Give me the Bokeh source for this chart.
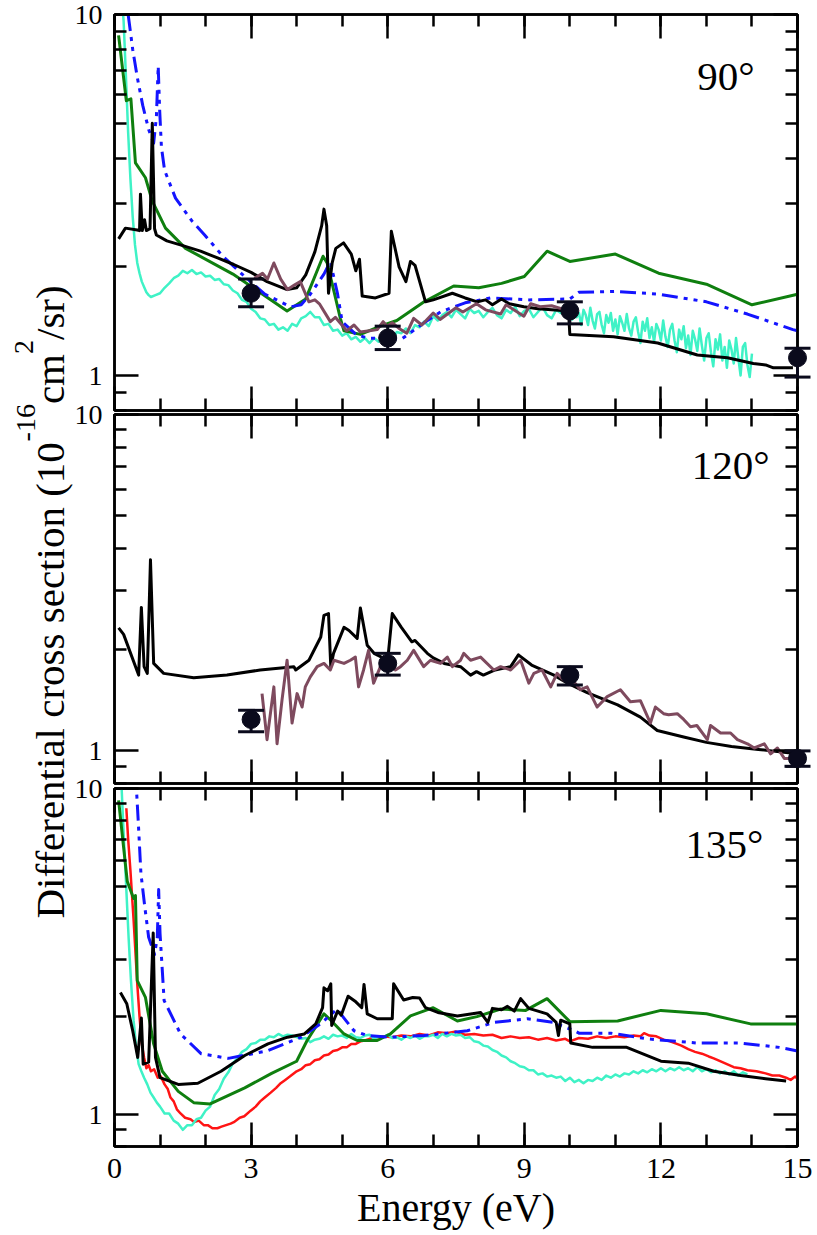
import math

from bokeh.embed import file_html
from bokeh.layouts import column
from bokeh.models import (ColumnDataSource, CustomJSTickFormatter, FixedTicker, Label,
                          LinearAxis, LogAxis, LogScale, PrintfTickFormatter, Range1d,
                          TeeHead, Whisker)
from bokeh.plotting import figure
from bokeh.resources import INLINE

# ---------------------------------------------------------------- data
X_MAJOR = [0, 3, 6, 9, 12, 15]
X_MINOR = list(range(0, 16))
Y_MAJOR = [1, 10]
Y_MINOR = [0.8, 0.9, 2, 3, 4, 5, 6, 7, 8, 9]

ANGLES = ["90°", "120°", "135°"]

# 90 degrees
P1_BLACK = [(0.09, 2.39), (0.24, 2.56), (0.50, 2.53), (0.55, 2.52), (0.57, 3.18), (0.61, 2.52),
            (0.66, 2.70), (0.70, 2.52), (0.78, 2.55), (0.83, 5.00), (0.88, 2.55), (0.92, 2.45),
            (1.15, 2.36), (1.50, 2.29), (1.89, 2.21), (2.25, 2.12), (2.62, 2.03), (3.00, 1.93),
            (3.35, 1.82), (3.79, 1.73), (4.00, 1.75), (4.20, 1.90), (4.40, 2.20), (4.55, 2.60),
            (4.60, 2.89), (4.66, 2.60), (4.70, 1.69), (4.78, 2.05), (4.86, 2.25), (5.03, 2.33),
            (5.20, 2.17), (5.30, 1.95), (5.38, 2.10), (5.44, 1.66), (5.73, 1.64), (6.03, 1.69),
            (6.08, 2.51), (6.25, 2.00), (6.40, 1.82), (6.50, 2.07), (6.60, 2.02), (6.83, 1.60),
            (7.00, 1.62), (7.42, 1.69), (7.70, 1.64), (7.97, 1.60), (8.15, 1.62), (8.30, 1.57),
            (8.50, 1.63), (8.67, 1.58), (8.99, 1.55), (9.30, 1.53), (9.97, 1.51), (10.00, 1.30),
            (10.96, 1.28), (11.93, 1.23), (12.80, 1.14), (13.46, 1.12), (14.03, 1.08),
            (14.30, 1.07), (14.47, 1.05), (14.90, 1.05)]
P1_GREEN = [(0.09, 8.75), (0.26, 5.77), (0.36, 5.84), (0.46, 3.88), (0.68, 3.53), (0.83, 3.04),
            (1.12, 2.56), (1.56, 2.25), (2.60, 1.91), (3.79, 1.51), (4.20, 1.63), (4.58, 2.14),
            (4.67, 2.05), (4.82, 1.71), (4.96, 1.44), (5.04, 1.33), (5.40, 1.30), (5.84, 1.37),
            (6.20, 1.42), (6.80, 1.60), (7.45, 1.77), (8.00, 1.75), (8.50, 1.80), (9.00, 1.88),
            (9.50, 2.21), (10.00, 2.07), (11.00, 2.17), (11.95, 1.92), (13.00, 1.79),
            (14.00, 1.57), (15.00, 1.68)]
P1_BLUE = [(0.22, 13.0), (0.30, 10.0), (0.40, 8.0), (0.50, 6.7), (0.62, 5.6), (0.75, 4.8),
           (0.86, 4.4), (0.92, 5.2), (0.96, 7.2), (0.99, 5.5), (1.03, 4.3), (1.10, 3.7),
           (1.34, 3.10), (1.70, 2.68), (1.98, 2.45), (2.38, 2.14), (2.80, 1.91), (3.30, 1.68),
           (3.87, 1.55), (4.10, 1.57), (4.30, 1.68), (4.60, 1.91), (4.74, 2.07), (4.90, 1.68),
           (5.00, 1.41), (5.30, 1.30), (5.55, 1.27), (6.30, 1.26), (6.80, 1.40), (7.16, 1.50),
           (7.70, 1.59), (8.26, 1.64), (9.10, 1.62), (10.00, 1.63), (10.20, 1.70), (11.00, 1.71),
           (11.95, 1.68), (13.00, 1.60), (13.90, 1.48), (14.90, 1.34), (15.00, 1.33)]
P1_CYAN = [(0.10, 14.0), (0.15, 11.5), (0.20, 9.6), (0.25, 6.8), (0.30, 4.7), (0.35, 3.5),
           (0.40, 2.75), (0.45, 2.30), (0.50, 2.05), (0.55, 1.92), (0.60, 1.82), (0.65, 1.76),
           (0.70, 1.70), (0.75, 1.67), (0.80, 1.65), (0.90, 1.67), (1.0, 1.69), (1.1, 1.75),
           (1.2, 1.80), (1.3, 1.86), (1.4, 1.89), (1.5, 1.95), (1.6, 1.92), (1.7, 1.96),
           (1.8, 1.91), (1.9, 1.93), (2.0, 1.88), (2.1, 1.89), (2.2, 1.84), (2.3, 1.85),
           (2.4, 1.79), (2.5, 1.78), (2.6, 1.72), (2.7, 1.69), (2.8, 1.62), (2.9, 1.60),
           (3.0, 1.53), (3.1, 1.50), (3.2, 1.44), (3.3, 1.43), (3.4, 1.38), (3.5, 1.39),
           (3.6, 1.34), (3.7, 1.36), (3.8, 1.33), (3.9, 1.39), (4.0, 1.37), (4.1, 1.44),
           (4.2, 1.46), (4.3, 1.50), (4.4, 1.45), (4.5, 1.45), (4.6, 1.38), (4.7, 1.39),
           (4.8, 1.33), (4.9, 1.34), (5.0, 1.29), (5.1, 1.31), (5.2, 1.26), (5.3, 1.28),
           (5.4, 1.24), (5.5, 1.27), (5.6, 1.23), (5.7, 1.27), (5.8, 1.24), (5.9, 1.28),
           (6.0, 1.29), (6.1, 1.26), (6.2, 1.32), (6.3, 1.31), (6.4, 1.35), (6.5, 1.31),
           (6.6, 1.38), (6.7, 1.36), (6.8, 1.41), (6.9, 1.37), (7.0, 1.46), (7.1, 1.42),
           (7.2, 1.47), (7.3, 1.50), (7.4, 1.45), (7.5, 1.52), (7.6, 1.48), (7.7, 1.44),
           (7.8, 1.53), (7.9, 1.49), (8.0, 1.51), (8.1, 1.45), (8.2, 1.50), (8.3, 1.54),
           (8.4, 1.47), (8.5, 1.44), (8.6, 1.52), (8.7, 1.49), (8.8, 1.55), (8.9, 1.46),
           (9.0, 1.51), (9.1, 1.53), (9.2, 1.45), (9.3, 1.50), (9.4, 1.55), (9.5, 1.47),
           (9.6, 1.44), (9.7, 1.52), (9.8, 1.49), (9.9, 1.54),
           (10.00, 1.53), (10.05, 1.43), (10.10, 1.55), (10.15, 1.45), (10.20, 1.49),
           (10.25, 1.38), (10.30, 1.52), (10.35, 1.47), (10.40, 1.38), (10.45, 1.54),
           (10.50, 1.42), (10.55, 1.35), (10.60, 1.48), (10.65, 1.50), (10.70, 1.38),
           (10.75, 1.31), (10.80, 1.47), (10.85, 1.40), (10.90, 1.49), (10.95, 1.33),
           (11.00, 1.43), (11.05, 1.30), (11.10, 1.46), (11.15, 1.40), (11.20, 1.33),
           (11.25, 1.48), (11.30, 1.35), (11.35, 1.29), (11.40, 1.41), (11.45, 1.45),
           (11.50, 1.32), (11.55, 1.23), (11.60, 1.41), (11.65, 1.33), (11.70, 1.44),
           (11.75, 1.27), (11.80, 1.36), (11.85, 1.24), (11.90, 1.39), (11.95, 1.34),
           (12.00, 1.25), (12.05, 1.42), (12.10, 1.28), (12.15, 1.20), (12.20, 1.34),
           (12.25, 1.39), (12.30, 1.25), (12.35, 1.16), (12.40, 1.34), (12.45, 1.26),
           (12.50, 1.37), (12.55, 1.19), (12.60, 1.29), (12.65, 1.14), (12.70, 1.33),
           (12.75, 1.26), (12.80, 1.17), (12.85, 1.35), (12.90, 1.21), (12.95, 1.10),
           (13.00, 1.27), (13.05, 1.31), (13.10, 1.16), (13.15, 1.06), (13.20, 1.26),
           (13.25, 1.18), (13.30, 1.30), (13.35, 1.10), (13.40, 1.20), (13.45, 1.05),
           (13.50, 1.25), (13.55, 1.18), (13.60, 1.08), (13.65, 1.27), (13.70, 1.12),
           (13.75, 1.00), (13.80, 1.20), (13.85, 1.23), (13.90, 1.07), (13.95, 0.99),
           (14.00, 1.15)]
P1_MAUVE = [(3.07, 1.86), (3.25, 1.92), (3.36, 1.85), (3.50, 2.05), (3.65, 1.85), (3.80, 1.73),
            (3.95, 1.78), (4.08, 1.82), (4.27, 1.60), (4.40, 1.62), (4.50, 1.58), (4.74, 1.41),
            (4.85, 1.45), (5.10, 1.33), (5.26, 1.38), (5.40, 1.32), (5.60, 1.33), (5.77, 1.34),
            (5.90, 1.41), (5.99, 1.37), (6.10, 1.40), (6.25, 1.35), (6.42, 1.31), (6.57, 1.44),
            (6.75, 1.38), (7.00, 1.49), (7.15, 1.43), (7.50, 1.54), (7.65, 1.50), (7.95, 1.58),
            (8.15, 1.52), (8.48, 1.48), (8.60, 1.57), (8.99, 1.46), (9.14, 1.58), (9.35, 1.55),
            (9.60, 1.56), (9.90, 1.52), (10.00, 1.57)]
P1_EXP_E = [3, 6, 10, 15]
P1_EXP_V = [1.69, 1.27, 1.51, 1.12]
P1_EXP_LO = [1.55, 1.18, 1.39, 0.99]
P1_EXP_HI = [1.85, 1.37, 1.60, 1.19]

# 120 degrees
P2_BLACK = [(0.09, 2.32), (0.20, 2.22), (0.53, 1.68), (0.59, 2.67), (0.65, 1.78), (0.72, 1.70),
            (0.79, 3.70), (0.86, 1.82), (1.08, 1.70), (1.74, 1.65), (2.47, 1.68), (3.20, 1.74),
            (3.94, 1.78), (3.98, 1.74), (4.27, 1.86), (4.53, 2.18), (4.60, 2.53), (4.70, 2.56),
            (4.75, 1.78), (4.81, 1.95), (5.04, 2.33), (5.15, 2.28), (5.33, 2.16), (5.40, 2.66),
            (5.55, 2.06), (5.70, 1.95), (6.00, 1.86), (6.10, 2.56), (6.30, 2.33), (6.53, 2.11),
            (6.60, 2.13), (6.87, 1.95), (7.00, 1.89), (7.24, 1.82), (7.60, 1.78), (7.82, 1.68),
            (7.95, 1.72), (8.10, 1.68), (8.36, 1.74), (8.70, 1.78), (8.87, 1.93), (9.16, 1.80),
            (9.65, 1.68), (9.95, 1.59), (10.38, 1.49), (11.05, 1.37), (11.55, 1.26),
            (11.92, 1.15), (12.50, 1.10), (13.00, 1.06), (13.55, 1.03), (14.14, 1.01),
            (14.70, 0.99), (15.00, 0.98)]
P2_MAUVE = [(3.24, 1.48), (3.35, 1.08), (3.50, 1.55), (3.57, 1.05), (3.68, 1.42), (3.79, 1.86),
            (3.90, 1.21), (4.01, 1.48), (4.12, 1.35), (4.19, 1.55), (4.30, 1.66), (4.45, 1.78),
            (4.60, 1.82), (4.74, 1.74), (4.82, 1.86), (5.04, 1.82), (5.18, 1.86), (5.29, 1.90),
            (5.36, 1.55), (5.47, 1.74), (5.58, 1.99), (5.69, 1.59), (5.84, 1.78), (5.99, 1.95),
            (6.17, 1.74), (6.28, 1.78), (6.43, 1.86), (6.57, 1.99), (6.79, 1.78), (6.94, 1.86),
            (7.16, 1.82), (7.31, 1.90), (7.42, 1.78), (7.60, 1.86), (7.67, 1.95), (7.82, 1.86),
            (8.04, 1.90), (8.33, 1.74), (8.48, 1.78), (8.70, 1.74), (8.92, 1.86), (9.10, 1.59),
            (9.21, 1.70), (9.39, 1.74), (9.58, 1.55), (9.72, 1.70), (9.87, 1.62), (10.00, 1.66),
            (10.23, 1.52), (10.38, 1.55), (10.60, 1.35), (10.82, 1.45), (11.11, 1.52),
            (11.33, 1.40), (11.55, 1.41), (11.77, 1.21), (11.88, 1.35), (12.06, 1.29),
            (12.17, 1.28), (12.36, 1.29), (12.50, 1.24), (12.65, 1.18), (12.79, 1.19),
            (13.02, 1.08), (13.09, 1.19), (13.31, 1.13), (13.53, 1.13), (13.68, 1.08),
            (13.90, 1.05), (14.05, 1.02), (14.27, 1.05), (14.41, 0.98), (14.56, 1.02),
            (14.71, 0.95), (14.93, 0.95)]
P2_EXP_E = [3, 6, 10, 15]
P2_EXP_V = [1.24, 1.82, 1.68, 0.95]
P2_EXP_LO = [1.14, 1.68, 1.57, 0.90]
P2_EXP_HI = [1.32, 1.95, 1.78, 1.00]

# 135 degrees
P3_BLACK = [(0.13, 2.37), (0.27, 2.19), (0.40, 1.81), (0.51, 1.50), (0.59, 1.98), (0.63, 1.43),
            (0.75, 1.45), (0.85, 3.61), (0.90, 1.50), (1.00, 1.30), (1.40, 1.24), (1.83, 1.25),
            (2.34, 1.36), (2.86, 1.52), (3.37, 1.65), (3.80, 1.73), (4.17, 1.77), (4.42, 1.90),
            (4.57, 2.13), (4.60, 2.45), (4.68, 2.40), (4.75, 2.52), (4.77, 1.88), (4.90, 2.08),
            (4.98, 2.02), (5.13, 2.31), (5.30, 2.22), (5.43, 2.13), (5.48, 2.51), (5.55, 2.04),
            (5.77, 1.97), (6.10, 1.97), (6.13, 2.52), (6.35, 2.25), (6.55, 2.29), (6.70, 2.28),
            (6.83, 2.13), (7.10, 2.06), (7.53, 2.01), (8.04, 2.06), (8.20, 1.92), (8.30, 2.12),
            (8.50, 2.10), (8.63, 2.15), (8.78, 2.08), (8.92, 2.27), (9.10, 2.12), (9.50, 2.04),
            (9.70, 1.92), (9.75, 1.75), (9.80, 1.95), (10.00, 1.90), (10.02, 1.66),
            (10.50, 1.61), (11.25, 1.61), (12.00, 1.46), (12.60, 1.44), (13.16, 1.36),
            (13.75, 1.32), (14.30, 1.29), (14.75, 1.27)]
P3_GREEN = [(0.09, 9.2), (0.20, 6.6), (0.28, 5.2), (0.42, 4.6), (0.46, 4.7), (0.50, 2.58),
            (0.68, 2.29), (0.86, 1.65), (1.05, 1.36), (1.40, 1.18), (1.74, 1.09), (2.10, 1.08),
            (2.86, 1.21), (3.45, 1.34), (4.00, 1.46), (4.23, 1.69), (4.60, 2.04), (4.75, 1.95),
            (5.04, 1.77), (5.33, 1.69), (5.77, 1.69), (6.06, 1.77), (6.50, 2.01), (7.00, 2.13),
            (7.53, 1.94), (7.96, 2.00), (8.48, 2.11), (9.03, 2.09), (9.50, 2.27), (10.00, 1.93),
            (11.05, 1.94), (12.00, 2.09), (13.00, 2.04), (13.97, 1.90), (15.00, 1.90)]
P3_RED = [(0.26, 8.7), (0.30, 7.0), (0.35, 5.6), (0.42, 3.94), (0.50, 2.52), (0.55, 2.00),
          (0.60, 1.65), (0.65, 1.50), (0.70, 1.39), (0.75, 1.42), (0.80, 1.36), (0.87, 1.38),
          (0.95, 1.30), (1.02, 1.31), (1.10, 1.24), (1.17, 1.20), (1.23, 1.13), (1.30, 1.10),
          (1.37, 1.04), (1.45, 1.01), (1.55, 0.98), (1.67, 0.97), (1.75, 0.95), (1.85, 0.96),
          (1.96, 0.93), (2.05, 0.93), (2.15, 0.91), (2.26, 0.91), (2.35, 0.92), (2.45, 0.93),
          (2.55, 0.94), (2.62, 0.95), (2.75, 0.98), (2.85, 0.99), (2.99, 1.03), (3.10, 1.06),
          (3.20, 1.10), (3.30, 1.13), (3.43, 1.17), (3.55, 1.21), (3.65, 1.25), (3.75, 1.28),
          (3.85, 1.31), (4.00, 1.36), (4.10, 1.38), (4.20, 1.42), (4.30, 1.43), (4.40, 1.47),
          (4.50, 1.48), (4.60, 1.52), (4.70, 1.53), (4.80, 1.57), (4.90, 1.58), (5.00, 1.61),
          (5.10, 1.61), (5.20, 1.65), (5.30, 1.65), (5.40, 1.68), (5.50, 1.69), (5.60, 1.71),
          (5.77, 1.73), (5.90, 1.74), (6.10, 1.73), (6.30, 1.75), (6.50, 1.74), (6.70, 1.77),
          (6.90, 1.75), (7.10, 1.79), (7.30, 1.78), (7.50, 1.80), (7.70, 1.76), (7.90, 1.77),
          (8.10, 1.75), (8.30, 1.76), (8.50, 1.72), (8.70, 1.74), (8.90, 1.72), (9.10, 1.73),
          (9.30, 1.70), (9.50, 1.72), (9.70, 1.69), (9.90, 1.71), (10.00, 1.68), (10.20, 1.72),
          (10.40, 1.71), (10.60, 1.74), (10.80, 1.72), (11.00, 1.74), (11.20, 1.73),
          (11.40, 1.75), (11.55, 1.74), (11.63, 1.78), (11.75, 1.75), (11.90, 1.74),
          (12.06, 1.70), (12.20, 1.68), (12.35, 1.65), (12.45, 1.63), (12.60, 1.59),
          (12.75, 1.56), (12.90, 1.54), (13.05, 1.51), (13.16, 1.49), (13.30, 1.46),
          (13.45, 1.43), (13.60, 1.40), (13.75, 1.39), (13.90, 1.37), (14.10, 1.36),
          (14.30, 1.34), (14.45, 1.32), (14.60, 1.32), (14.75, 1.30), (14.85, 1.28),
          (14.95, 1.31), (15.00, 1.29)]
P3_CYAN = [(0.10, 14.0), (0.15, 10.5), (0.20, 7.3), (0.24, 5.6), (0.31, 3.49), (0.36, 2.6),
           (0.42, 1.94), (0.47, 1.65), (0.53, 1.43), (0.59, 1.36), (0.65, 1.30), (0.72, 1.24),
           (0.79, 1.17), (0.86, 1.13), (0.93, 1.09), (1.0, 1.06), (1.1, 1.01), (1.2, 1.01),
           (1.3, 0.96), (1.4, 0.94), (1.5, 0.90), (1.6, 0.93), (1.7, 0.93), (1.8, 0.97),
           (1.9, 0.98), (2.0, 1.03), (2.1, 1.06), (2.2, 1.15), (2.3, 1.20), (2.4, 1.29),
           (2.5, 1.35), (2.6, 1.44), (2.7, 1.49), (2.8, 1.56), (2.9, 1.59), (3.0, 1.65),
           (3.1, 1.66), (3.2, 1.70), (3.3, 1.70), (3.4, 1.74), (3.5, 1.73), (3.6, 1.77),
           (3.7, 1.74), (3.8, 1.76), (3.9, 1.75), (4.0, 1.73), (4.1, 1.71), (4.2, 1.72),
           (4.3, 1.67), (4.4, 1.70), (4.5, 1.71), (4.6, 1.74), (4.7, 1.71), (4.8, 1.76),
           (4.9, 1.74), (5.0, 1.75), (5.1, 1.72), (5.2, 1.77), (5.3, 1.73), (5.4, 1.72),
           (5.5, 1.75), (5.6, 1.76), (5.7, 1.71), (5.8, 1.74), (5.9, 1.73), (6.0, 1.76),
           (6.1, 1.72), (6.2, 1.73), (6.3, 1.70), (6.4, 1.74), (6.5, 1.72), (6.6, 1.75),
           (6.7, 1.71), (6.8, 1.74), (6.9, 1.74), (7.0, 1.76), (7.1, 1.72), (7.2, 1.77),
           (7.3, 1.74), (7.4, 1.77), (7.5, 1.75), (7.6, 1.76), (7.7, 1.72), (7.8, 1.73),
           (7.9, 1.68), (8.0, 1.67), (8.1, 1.63), (8.2, 1.62), (8.3, 1.58), (8.4, 1.56),
           (8.5, 1.52), (8.6, 1.50), (8.7, 1.46), (8.8, 1.44), (8.9, 1.41), (9.0, 1.40),
           (9.1, 1.37), (9.2, 1.37), (9.3, 1.33), (9.4, 1.34), (9.5, 1.31), (9.6, 1.32),
           (9.7, 1.30), (9.8, 1.31), (9.9, 1.27), (10.0, 1.30), (10.1, 1.26), (10.2, 1.28),
           (10.3, 1.25), (10.4, 1.28), (10.5, 1.27), (10.6, 1.30), (10.7, 1.28), (10.8, 1.32),
           (10.9, 1.30), (11.0, 1.33), (11.1, 1.31), (11.2, 1.34), (11.3, 1.33), (11.4, 1.36),
           (11.5, 1.34), (11.6, 1.37), (11.7, 1.35), (11.8, 1.38), (11.9, 1.36), (12.0, 1.39),
           (12.1, 1.36), (12.2, 1.39), (12.3, 1.37), (12.4, 1.40), (12.5, 1.37), (12.6, 1.39),
           (12.7, 1.36), (12.8, 1.40), (12.9, 1.36), (13.0, 1.38), (13.1, 1.35), (13.2, 1.37),
           (13.3, 1.34), (13.4, 1.36), (13.5, 1.33), (13.6, 1.36), (13.7, 1.32), (13.8, 1.35),
           (13.9, 1.33)]
P3_BLUE = [(0.45, 12.0), (0.52, 8.0), (0.58, 5.5), (0.66, 4.4), (0.75, 3.5), (0.88, 3.1),
           (0.94, 3.5), (0.97, 4.9), (1.00, 3.6), (1.09, 2.24), (1.45, 1.77), (1.90, 1.54),
           (2.50, 1.49), (3.35, 1.57), (4.10, 1.73), (4.52, 1.90), (4.89, 2.11), (5.04, 1.98),
           (5.26, 1.81), (5.55, 1.75), (6.06, 1.73), (6.80, 1.75), (7.75, 1.81), (8.33, 1.92),
           (9.07, 1.97), (9.64, 1.92), (10.10, 1.81), (10.20, 1.78), (10.90, 1.78),
           (11.70, 1.71), (12.80, 1.66), (13.75, 1.66), (14.60, 1.61), (15.00, 1.57)]

# ---------------------------------------------------------------- styling
W, H = 817, 1235
LEFT, RIGHT = 114, 797
FRAMES = [(14, 410), (414, 783), (788, 1146)]   # top / bottom pixel rows of each panel
X0, X1 = 0.0, 15.0
Y0, Y1 = 0.8, 10.0
SERIF = "Liberation Serif"

BLACK = "#000000"
GREEN = "#0f7f0f"
BLUE = "#1414ff"
RED = "#ff1414"
CYAN = "#3ff2c6"
MAUVE = "#7e4a5e"
DOT = "#0a0a1c"
BLUE_DASH = "16 6 4 6 4 6"


def unzip(pairs):
    return [a for a, _ in pairs], [b for _, b in pairs]


def blank():
    return CustomJSTickFormatter(code="return ''")


def style_axis(ax, with_labels):
    ax.major_tick_in = 24
    ax.major_tick_out = 0
    ax.minor_tick_in = 12
    ax.minor_tick_out = 0
    ax.axis_line_width = 2.5
    ax.axis_line_color = "black"
    ax.major_tick_line_width = 2.5
    ax.minor_tick_line_width = 2.5
    ax.major_tick_line_color = "black"
    ax.minor_tick_line_color = "black"
    ax.major_label_text_font = SERIF
    ax.major_label_text_font_size = "28px"
    ax.major_label_text_color = "black"
    if not with_labels:
        ax.formatter = blank()
        ax.major_label_standoff = 0


def make_panel(top, bottom, x_labels):
    p = figure(width=W, height=H, x_range=Range1d(X0, X1), y_range=Range1d(Y0, Y1),
               y_axis_type="log", output_backend="svg", toolbar_location=None,
               min_border_left=LEFT, min_border_right=W - RIGHT,
               min_border_top=top, min_border_bottom=H - bottom,
               background_fill_alpha=0, border_fill_alpha=0,
               outline_line_color="black", outline_line_width=2.5)
    p.grid.visible = False

    xb = p.below[0]
    xb.ticker = FixedTicker(ticks=X_MAJOR, minor_ticks=X_MINOR)
    style_axis(xb, x_labels)
    if x_labels:
        xb.major_label_text_font_size = "30px"
        xb.major_label_standoff = 12

    yl = p.left[0]
    yl.ticker = FixedTicker(ticks=Y_MAJOR, minor_ticks=Y_MINOR)
    style_axis(yl, True)
    yl.formatter = PrintfTickFormatter(format="%d")
    yl.major_label_standoff = 12

    xa = LinearAxis(ticker=FixedTicker(ticks=X_MAJOR, minor_ticks=X_MINOR))
    style_axis(xa, False)
    p.add_layout(xa, "above")

    yr = LogAxis(ticker=FixedTicker(ticks=Y_MAJOR, minor_ticks=Y_MINOR))
    style_axis(yr, False)
    p.add_layout(yr, "right")
    return p, xb


def curve(p, pairs, color, width, dash="solid"):
    xs, ys = unzip(pairs)
    p.line(xs, ys, line_color=color, line_width=width, line_dash=dash, line_join="round")


def angle_label(p, text, x, y):
    p.add_layout(Label(x=x, y=y, text=text, text_align="right", text_baseline="alphabetic",
                       text_font=SERIF, text_font_size="41px", text_color="black"))


# ---------------------------------------------------------------- panels
p1, _ = make_panel(*FRAMES[0], x_labels=False)
curve(p1, P1_CYAN, CYAN, 2.5)
curve(p1, P1_GREEN, GREEN, 3)
curve(p1, P1_BLUE, BLUE, 3, BLUE_DASH)
curve(p1, P1_BLACK, BLACK, 3)
curve(p1, P1_MAUVE, MAUVE, 3)
angle_label(p1, ANGLES[0], 14.06, 6.77)

p2, _ = make_panel(*FRAMES[1], x_labels=False)
curve(p2, P2_BLACK, BLACK, 3)
curve(p2, P2_MAUVE, MAUVE, 3)
angle_label(p2, ANGLES[1], 14.39, 7.06)

p3, x3 = make_panel(*FRAMES[2], x_labels=True)
curve(p3, P3_RED, RED, 2.5)
curve(p3, P3_CYAN, CYAN, 2.5)
curve(p3, P3_GREEN, GREEN, 3)
curve(p3, P3_BLUE, BLUE, 3, BLUE_DASH)
curve(p3, P3_BLACK, BLACK, 3)
angle_label(p3, ANGLES[2], 14.25, 6.78)
x3.axis_label = "Energy (eV)"
x3.axis_label_text_font = SERIF
x3.axis_label_text_font_size = "40px"
x3.axis_label_text_font_style = "normal"
x3.axis_label_text_color = "black"
x3.axis_label_standoff = 4

# ---------------------------------------------------------------- overlay
# A full-canvas layer sharing each panel's scales: the measured points with
# their error bars (not cut at the frame edge) and the common y-axis title.
ppe = (RIGHT - LEFT) / (X1 - X0)
ov = figure(width=W, height=H, x_range=Range1d(X0 - LEFT / ppe, X1 + (W - RIGHT) / ppe),
            y_range=Range1d(0, H), output_backend="svg", toolbar_location=None,
            min_border=0, x_axis_location=None, y_axis_location=None,
            outline_line_color=None, background_fill_alpha=0, border_fill_alpha=0)
ov.frame_align = False
ov.grid.visible = False

ranges, scales = {}, {}
for i, (top, bottom) in enumerate(FRAMES):
    dpp = (math.log10(Y1) - math.log10(Y0)) / (bottom - top)
    hi = math.log10(Y1) + top * dpp
    lo = math.log10(Y0) - (H - bottom) * dpp
    ranges[f"p{i}"] = Range1d(10 ** lo, 10 ** hi)
    scales[f"p{i}"] = LogScale()
ov.extra_y_ranges = ranges
ov.extra_y_scales = scales

for i, (es, vs, los, his) in enumerate([(P1_EXP_E, P1_EXP_V, P1_EXP_LO, P1_EXP_HI),
                                        (P2_EXP_E, P2_EXP_V, P2_EXP_LO, P2_EXP_HI)]):
    src = ColumnDataSource(dict(x=es, y=vs, lo=los, hi=his))
    ov.add_layout(Whisker(source=src, base="x", lower="lo", upper="hi", dimension="height",
                          y_range_name=f"p{i}", line_color=DOT, line_width=3,
                          lower_head=TeeHead(size=26, line_color=DOT, line_width=3),
                          upper_head=TeeHead(size=26, line_color=DOT, line_width=3)))
    ov.scatter("x", "y", source=src, y_range_name=f"p{i}", size=18,
               fill_color=DOT, line_color=DOT)

# y-axis title assembled from pieces so the exponents sit raised
MAIN_PX, SUP_PX = 41, 28
pieces = [("Differential cross section (10", MAIN_PX, 49, 11.636),
          ("-16", SUP_PX, 25, 1.333),
          ("cm", MAIN_PX, 49, 1.222),
          ("2", SUP_PX, 23, 0.5),
          ("/sr)", MAIN_PX, 49, 1.333)]
start = 918.0
for text, size, xb, em in pieces:
    ov.add_layout(Label(x=xb, y=H - start, x_units="screen", y_units="screen",
                        text=text, angle=math.pi / 2, text_align="left",
                        text_baseline="alphabetic", text_font=SERIF,
                        text_font_size=f"{size}px", text_color="black"))
    start -= em * size

for fig in (p2, p3, ov):
    fig.margin = (-H, 0, 0, 0)

layout = column(p1, p2, p3, ov)
open("out.html", "w").write(file_html(layout, INLINE))
